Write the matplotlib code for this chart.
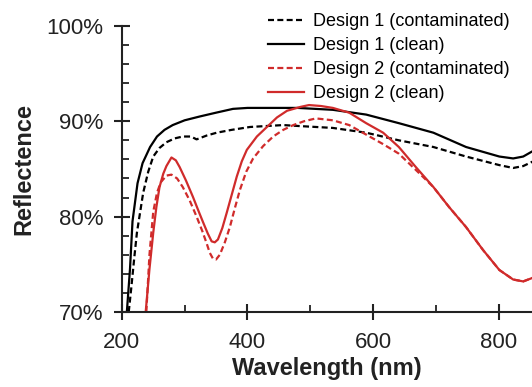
import matplotlib
matplotlib.use("Agg")
import matplotlib.pyplot as plt
from matplotlib.ticker import MultipleLocator, FuncFormatter

plt.rcParams['font.family'] = ['Liberation Sans', 'DejaVu Sans']

RED = "#d02b2b"

# Design 1 clean (black solid)
wl_d1_clean = [208, 213, 217, 225, 233, 245, 256, 268, 281, 300, 324, 350, 377, 400, 429,
               480, 536, 589, 641, 696, 748, 801, 823, 839, 855]
r_d1_clean = [70.0, 74.5, 79.5, 83.5, 85.6, 87.3, 88.4, 89.1, 89.6, 90.1, 90.5, 90.9, 91.3, 91.4, 91.4,
              91.4, 91.2, 90.7, 89.8, 88.8, 87.3, 86.3, 86.1, 86.3, 86.9]

# Design 1 contaminated (black dashed)
wl_d1_cont = [211, 215, 220, 224, 234, 242, 250, 260, 271, 284, 297, 310, 319, 335, 351,
              375, 404, 430, 457, 482, 536, 589, 641, 696, 748, 801, 823, 839, 855]
r_d1_cont = [70.0, 72.5, 75.8, 78.3, 82.5, 84.7, 86.3, 87.2, 87.8, 88.2, 88.4, 88.4, 88.1, 88.5, 88.8,
             89.1, 89.4, 89.5, 89.6, 89.5, 89.3, 88.8, 88.0, 87.3, 86.3, 85.4, 85.1, 85.3, 85.8]

# Design 2 clean (red solid)
wl_d2_clean = [238, 244, 250, 255, 260, 266, 271, 279, 286, 292, 302, 313, 322, 330, 337, 343,
               348, 353, 360, 367, 375, 383, 391, 399, 415, 431, 447, 463, 484, 498, 517, 536,
               562, 589, 616, 641, 668, 696, 721, 748, 775, 801, 823, 839, 855]
r_d2_clean = [70.0, 74.5, 78.3, 81.0, 83.1, 84.5, 85.3, 86.2, 85.9, 85.2, 83.8, 82.1, 80.6, 79.3, 78.2, 77.4,
              77.3, 77.6, 78.8, 80.4, 82.3, 84.2, 85.8, 87.0, 88.4, 89.4, 90.4, 91.1, 91.5, 91.7, 91.6, 91.4,
              90.9, 89.8, 88.8, 87.3, 85.2, 83.1, 81.0, 78.9, 76.5, 74.4, 73.4, 73.2, 73.6]

# Design 2 contaminated (red dashed)
wl_d2_cont = [239, 244, 250, 256, 262, 271, 279, 288, 297, 308, 319, 328, 335, 340, 345,
              350, 356, 364, 372, 380, 388, 398, 409, 425, 441, 457, 473, 490, 509, 536, 562,
              589, 616, 641, 668, 696, 721, 748, 775, 801, 823, 839, 855]
r_d2_cont = [70.0, 76.0, 80.5, 82.5, 83.6, 84.3, 84.4, 84.0, 83.1, 81.7, 80.0, 78.5, 77.2, 76.2, 75.6,
             75.5, 76.0, 77.3, 78.9, 80.9, 82.8, 84.7, 86.1, 87.4, 88.4, 89.1, 89.6, 90.0, 90.3, 90.1, 89.6,
             88.6, 87.6, 86.6, 84.9, 83.1, 81.0, 78.9, 76.5, 74.4, 73.4, 73.2, 73.6]

labels = ["Design 1 (contaminated)", "Design 1 (clean)",
          "Design 2 (contaminated)", "Design 2 (clean)"]

fig = plt.figure(figsize=(5.32, 3.87), dpi=100)
ax = fig.add_axes([0.229, 0.194, 0.771, 0.739])

dash = (0, (2.7, 1.5))
ax.plot(wl_d1_cont, r_d1_cont, color="black", lw=1.6, ls=dash, label=labels[0])
ax.plot(wl_d1_clean, r_d1_clean, color="black", lw=1.6, label=labels[1])
ax.plot(wl_d2_cont, r_d2_cont, color=RED, lw=1.6, ls=dash, label=labels[2])
ax.plot(wl_d2_clean, r_d2_clean, color=RED, lw=1.6, label=labels[3])

ax.set_xlim(200, 853)
ax.set_ylim(70, 100)
ax.spines['top'].set_visible(False)
ax.spines['right'].set_visible(False)
for s in ['left', 'bottom']:
    ax.spines[s].set_linewidth(1.5)
    ax.spines[s].set_color("#222222")

ax.xaxis.set_major_locator(MultipleLocator(200))
ax.xaxis.set_minor_locator(MultipleLocator(100))
ax.yaxis.set_major_locator(MultipleLocator(10))
ax.yaxis.set_minor_locator(MultipleLocator(2))
ax.yaxis.set_major_formatter(FuncFormatter(lambda v, p: f"{v:.0f}%"))

ax.tick_params(axis='both', which='major', direction='inout', length=11, width=1.5,
               labelsize=16, colors="#222222")
ax.tick_params(axis='x', which='major', pad=9)
ax.tick_params(axis='y', which='major', pad=8)
ax.tick_params(axis='both', which='minor', direction='in', length=5, width=1.3, colors="#222222")

ax.set_xlabel("Wavelength (nm)", fontsize=17, fontweight='bold', color="#222222", labelpad=3)
ax.set_ylabel("Reflectence", fontsize=17, fontweight='bold', color="#222222", labelpad=8)

ax.legend(loc='upper left', bbox_to_anchor=(0.497, 0.975), bbox_transform=fig.transFigure,
          frameon=False, fontsize=13, handlelength=2.0, handletextpad=0.5,
          labelspacing=0.38, borderpad=0.2, borderaxespad=0)

fig.savefig("out.png", dpi=100)
